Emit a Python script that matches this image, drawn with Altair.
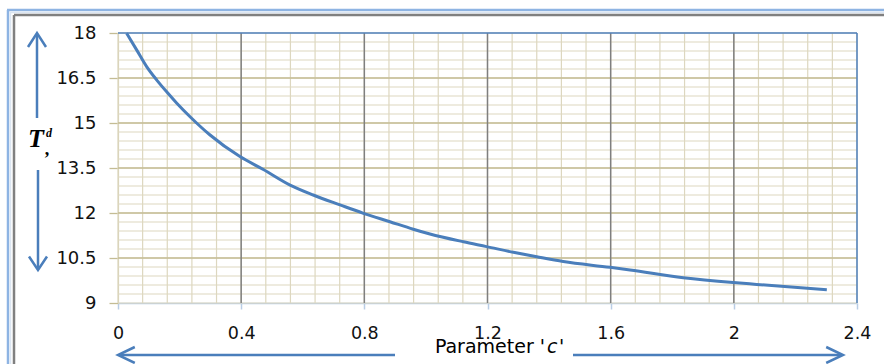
import altair as alt
import pandas as pd

# ---- data ----
c_vals = [0.028, 0.061, 0.093, 0.126, 0.158, 0.191, 0.234, 0.299, 0.396, 0.472,
          0.559, 0.634, 0.721, 0.797, 0.883, 0.959, 1.013, 1.122, 1.197, 1.284,
          1.360, 1.446, 1.598, 1.663, 1.836, 1.998, 2.074, 2.302]
t_vals = [17.99, 17.43, 16.88, 16.43, 16.04, 15.66, 15.21, 14.60, 13.88, 13.45,
          12.93, 12.60, 12.27, 11.99, 11.71, 11.46, 11.30, 11.04, 10.88, 10.69,
          10.54, 10.38, 10.19, 10.10, 9.84, 9.68, 9.62, 9.44]
x_ticks = [0, 0.4, 0.8, 1.2, 1.6, 2.0, 2.4]
y_ticks = [9, 10.5, 12, 13.5, 15, 16.5, 18]
x_minor = [round(i * 0.08, 2) for i in range(31)]
y_minor = [round(9 + i * 0.3, 1) for i in range(31)]

W, H = 739, 270
BLUE = "#4a7ebb"
xs = alt.Scale(domain=[0, 2.4], nice=False)
ys = alt.Scale(domain=[9, 18], nice=False, zero=False)
one = pd.DataFrame({"a": [0]})

minor_v = alt.Chart(pd.DataFrame({"c": x_minor})).mark_rule(color="#ddd7bf", strokeWidth=1.2).encode(
    x=alt.X("c:Q", scale=xs, title=None))
minor_h = alt.Chart(pd.DataFrame({"T": y_minor})).mark_rule(color="#ddd7bf", strokeWidth=1.2).encode(
    y=alt.Y("T:Q", scale=ys, title=None))
major_h = alt.Chart(pd.DataFrame({"T": y_ticks[1:-1]})).mark_rule(color="#c4bc94", strokeWidth=1.3).encode(
    y=alt.Y("T:Q", scale=ys, title=None))
major_v = alt.Chart(pd.DataFrame({"c": x_ticks[1:-1]})).mark_rule(color="#7f7f7f", strokeWidth=1.5).encode(
    x=alt.X("c:Q", scale=xs, title=None))

line = alt.Chart(pd.DataFrame({"c": c_vals, "T": t_vals})).mark_line(
    color=BLUE, strokeWidth=3, interpolate="monotone").encode(
    x=alt.X("c:Q", scale=xs, axis=alt.Axis(
        values=x_ticks, labelExpr="'' + datum.value", title=None, grid=False, orient="bottom",
        domainColor="#b9cde5", domainWidth=1.5, tickColor="#b9cde5", tickWidth=1.5, tickSize=6,
        labelFont="DejaVu Sans", labelFontSize=17.5, labelColor="#111111", labelPadding=15,
        labelFlush=False, labelOverlap=False)),
    y=alt.Y("T:Q", scale=ys, axis=alt.Axis(
        values=y_ticks, labelExpr="'' + datum.value", title=None, grid=False,
        domainColor="#d6d0b4", domainWidth=1.2, tickColor="#c4bc94", tickWidth=1.3, tickSize=9,
        labelFont="DejaVu Sans", labelFontSize=18, labelColor="#111111", labelPadding=13,
        labelFlush=False, labelOverlap=False)))

def rule(x, y, x2=None, y2=None, color=BLUE, w=2.5):
    enc = dict(x=alt.value(x), y=alt.value(y))
    if x2 is not None:
        enc["x2"] = alt.value(x2)
    if y2 is not None:
        enc["y2"] = alt.value(y2)
    return alt.Chart(one).mark_rule(color=color, strokeWidth=w).encode(**enc)

def chevron(x, y, path, size):
    return alt.Chart(one).mark_point(shape=path, size=size, filled=False, stroke=BLUE,
                                     strokeWidth=2.5, opacity=1).encode(x=alt.value(x), y=alt.value(y))

def text(x, y, s, size, font="DejaVu Sans", style="normal", weight="normal", align="left"):
    return alt.Chart(one).mark_text(text=s, fontSize=size, font=font, fontStyle=style,
                                    fontWeight=weight, align=align, baseline="alphabetic",
                                    color="#000000").encode(x=alt.value(x), y=alt.value(y))

borders = [
    rule(0, 0, x2=W, color="#4f81bd", w=1.5),
    rule(W, 0, y2=H, color="#4f81bd", w=1.5),
]

frame = [
    rule(-111, -23, x2=770, color="#8eb4e3", w=2.5),
    rule(-108, -20.5, x2=770, color="#dbe5f1", w=1.5),
    rule(-104, -18, x2=770, color="#808080", w=2.5),
    rule(-110, -23, y2=340, color="#8eb4e3", w=2.5),
    rule(-107.5, -20.5, y2=340, color="#dbe5f1", w=1.5),
    rule(-104, -18, y2=340, color="#808080", w=2.5),
]

arrows = [
    rule(-81, 1, y2=85),
    chevron(-81, 0, "M-1,1.55L0,0L1,1.55", 324),
    rule(-80, 137, y2=236),
    chevron(-80, 237, "M-1,-1.5L0,0L1,-1.5", 324),
    rule(1, 322, x2=277),
    chevron(0, 322, "M2.1,-1L0,0L2.1,1", 256),
    rule(455, 322, x2=724),
    chevron(725, 322, "M-2.1,-1L0,0L-2.1,1", 256),
]

labels = [
    text(427, 320, "Parameter '", 19, align="right"),
    text(429, 320, "c", 19, style="italic"),
    text(441, 320, "'", 19),
    text(-82, 114, "T", 26, font="Liberation Serif", style="italic", weight="bold", align="center"),
    text(-69, 104, "d", 12, font="Liberation Serif", style="italic", weight="bold", align="center"),
    text(-71, 122, ",", 18, font="Liberation Serif", weight="bold", align="center"),
]

chart = alt.layer(minor_v, minor_h, major_h, major_v, *borders, line, *arrows, *labels, *frame).properties(
    width=W, height=H,
    padding={"left": 118, "top": 33, "right": 27, "bottom": 61},
    autosize=alt.AutoSizeParams(type="none"),
    background="white",
).configure_view(stroke=None)

chart.save("out.html", embed_options={"renderer": "svg", "actions": False})
